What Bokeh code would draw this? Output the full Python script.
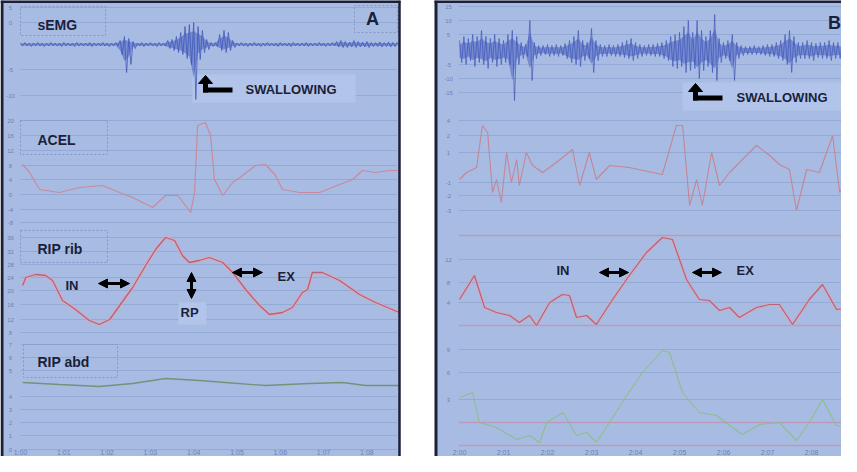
from bokeh.plotting import figure
from bokeh.models import Range1d, Arrow, NormalHead
from bokeh.core.properties import value
from bokeh.embed import file_html
from bokeh.resources import INLINE

# ------------------------------------------------------------------ data
# time axis (one unit = one tick interval)
time_ticks = [0, 1, 2, 3, 4, 5, 6, 7, 8]
time_labels_A = ["1:00", "1:01", "1:02", "1:03", "1:04", "1:05", "1:06", "1:07", "1:08"]
time_labels_B = ["2:00", "2:01", "2:02", "2:03", "2:04", "2:05", "2:06", "2:07", "2:08"]
emg_step = 0.1

# Panel A - sEMG envelope (upper / lower excursion per bin)
emgA_hi = [1.5, 2, 1.5, 1.5, 2, 1.5, 1.5, 2, 1.5, 1.5, 2, 1.5, 1.5, 2, 1.5, 1.5, 2, 1.5, 1.5, 2, 1.5, 1.5, 2,
           4, 8, 6, 3,
           1.5, 2, 1.5, 2, 1.5, 2, 1.5,
           4, 5, 8, 12, 18, 20, 22, 18, 14, 5,
           2, 2,
           10, 14, 12, 4,
           1.5, 2, 1.5, 1.5, 2, 1.5, 1.5, 2, 1.5, 1.5, 2, 1.5, 1.5, 2, 1.5, 1.5, 2, 1.5, 1.5, 2, 1.5, 1.5, 2,
           3, 4, 3, 2.5, 4, 3, 2.5, 3,
           2, 2, 2.5, 2, 2.5, 2, 2]
emgA_lo = [-1.5, -1.5, -2, -1.5, -1.5, -2, -1.5, -1.5, -1.5, -2, -1.5, -1.5, -2, -1.5, -1.5, -1.5, -2, -1.5, -1.5, -1.5, -2, -1.5, -1.5,
           -10, -28, -20, -4,
           -1.5, -2, -1.5, -1.5, -2, -1.5, -1.5,
           -4, -6, -8, -10, -14, -20, -55, -15, -8, -5,
           -2, -2,
           -6, -8, -6, -3,
           -1.5, -1.5, -2, -1.5, -1.5, -2, -1.5, -1.5, -1.5, -2, -1.5, -1.5, -2, -1.5, -1.5, -1.5, -2, -1.5, -1.5, -1.5, -2, -1.5, -1.5,
           -2.5, -3, -3, -2.5, -3, -2.5, -2.5, -3,
           -2, -2, -2.5, -2, -2.5, -2, -2]

# Panel A - ACEL
acelA_t = [0.05, 0.21, 0.44, 0.9, 1.36, 1.89, 2.29, 2.59, 3.05, 3.35, 3.63, 3.81, 3.93, 4.02, 4.09,
           4.27, 4.39, 4.48, 4.67, 4.9, 5.13, 5.43, 5.66, 5.89, 6.05, 6.44, 6.91, 7.37, 7.67, 7.9,
           8.2, 8.52, 8.71]
acelA_v = [58, 50, 33, 30, 35, 37, 30, 25, 15, 27, 27, 17, 10, 30, 97, 100, 87, 43, 27, 40, 47, 57,
           58, 47, 33, 30, 30, 38, 43, 52, 50, 52, 52]

# Panel A - RIP rib
ribA_t = [0.05, 0.12, 0.35, 0.58, 0.74, 0.97, 1.27, 1.59, 1.82, 2.06, 2.29, 2.59, 2.89, 3.12, 3.35,
          3.56, 3.74, 3.9, 4.13, 4.36, 4.67, 4.9, 5.2, 5.52, 5.75, 6.05, 6.28, 6.51, 6.63, 6.74,
          6.97, 7.37, 7.83, 8.2, 8.75]
ribA_v = [47, 55, 58, 57, 52, 32, 23, 12, 8, 13, 27, 45, 67, 83, 95, 92, 77, 70, 72, 75, 70, 60, 43,
          27, 18, 20, 25, 40, 43, 60, 60, 52, 38, 30, 20]

# Panel A - RIP abd
abdA_t = [0.05, 0.9, 1.82, 2.59, 3.35, 4.13, 4.73, 5.66, 6.67, 7.44, 7.97, 8.75]
abdA_v = [67, 65, 63, 66, 71, 69, 67, 64, 66, 67, 64, 64]

# Panel B - sEMG envelope
emgB_hi = [10, 14, 12, 16, 14, 20, 14, 12, 16, 12, 10, 16, 20, 14, 8, 6, 30, 8, 5, 5, 6, 5, 6, 5, 7,
           10, 14, 20, 10, 8, 22, 10, 6, 5, 6, 5, 6, 8, 10, 12, 8, 6, 5, 6, 6, 7, 8, 10, 14, 16, 18,
           24, 30, 18, 30, 20, 14, 20, 36, 12, 8, 10, 16, 8, 5, 4, 4, 5, 4, 5, 6, 6, 8, 10, 16, 20,
           14, 8, 8, 10, 8, 7, 8, 8, 10, 8, 8, 6]
emgB_lo = [-12, -14, -10, -16, -12, -14, -18, -12, -16, -14, -12, -14, -50, -14, -8, -6, -30, -8, -5,
           -4, -6, -5, -6, -5, -8, -12, -14, -16, -10, -8, -22, -10, -6, -6, -5, -6, -6, -7, -8, -10,
           -8, -6, -5, -5, -6, -6, -8, -10, -16, -18, -16, -22, -20, -18, -28, -20, -16, -22, -30,
           -12, -8, -10, -30, -8, -5, -4, -4, -4, -4, -5, -6, -6, -8, -10, -14, -22, -12, -8, -8, -8,
           -10, -7, -8, -8, -10, -8, -8, -6]

# Panel B - ACEL
acelB_t = [0, 0.16, 0.39, 0.52, 0.64, 0.75, 0.84, 0.95, 1.07, 1.18, 1.3, 1.36, 1.52, 1.66, 1.89, 2.2,
           2.57, 2.73, 2.95, 3.11, 3.41, 3.86, 4.61, 4.93, 5.07, 5.23, 5.39, 5.52, 5.73, 5.91, 6.14,
           6.43, 6.75, 7.05, 7.27, 7.5, 7.66, 7.89, 8.18, 8.48, 8.64, 8.86]
acelB_v = [38, 45, 50, 92, 85, 25, 38, 15, 65, 35, 58, 32, 65, 52, 45, 55, 68, 32, 65, 38, 52, 50,
           43, 92, 92, 12, 38, 12, 65, 32, 45, 58, 72, 62, 53, 48, 7, 48, 45, 82, 25, 45]

# Panel B - RIP rib
ribB_t = [0, 0.34, 0.57, 0.84, 1.14, 1.36, 1.59, 1.75, 2.05, 2.34, 2.5, 2.66, 2.89, 3.11, 3.48, 3.86,
          4.25, 4.61, 4.84, 5.16, 5.45, 5.68, 5.91, 6.14, 6.36, 6.75, 7.05, 7.27, 7.57, 7.95, 8.25,
          8.57, 8.86]
ribB_v = [29, 53, 21, 16, 13, 6, 13, 3, 26, 34, 33, 11, 13, 4, 29, 53, 76, 91, 89, 49, 29, 28, 18,
          21, 11, 21, 24, 24, 4, 29, 44, 19, 21]

# Panel B - RIP abd
abdB_t = [0, 0.3, 0.45, 0.84, 1.3, 1.59, 1.82, 1.98, 2.35, 2.66, 2.89, 3.11, 3.41, 3.8, 4.16, 4.61,
          4.77, 5.07, 5.45, 5.84, 6.14, 6.43, 6.82, 7.27, 7.66, 7.95, 8.25, 8.57, 8.86]
abdB_v = [52, 57, 27, 22, 10, 14, 7, 27, 37, 14, 17, 7, 27, 54, 77, 99, 97, 57, 37, 34, 24, 15, 25,
          27, 9, 27, 50, 24, 22]

trace_labels = ["sEMG", "ACEL", "RIP rib", "RIP abd"]

# ------------------------------------------------------------------ layout
W, H = 841, 456
FX0, FX1 = 8, 8 + W
FY0, FY1 = 8, 8 + H

BG = "#a8bce3"
GRID = "#93a9d6"
DARK = "#1b2038"
TXT = "#1a1f3a"
FONT = value("Liberation Sans")

p = figure(width=W, height=H, x_range=Range1d(FX0, FX1), y_range=Range1d(FY1, FY0),
           output_backend="svg", toolbar_location=None, min_border=0,
           x_axis_location=None, y_axis_location=None,
           outline_line_color=None, background_fill_color="white", border_fill_color="white")
p.grid.visible = False


def xr(t0_px, ppu):
    return Range1d((FX0 - t0_px) / ppu, (FX1 - t0_px) / ppu)


def yr(base_px, ppu=1.0):
    return Range1d((base_px - FY1) / ppu, (base_px - FY0) / ppu)


p.extra_x_ranges = {"tA": xr(28, 43.3), "tB": xr(467, 44.0)}
p.extra_y_ranges = {
    "emgA": yr(52), "acelA": yr(230), "ribA": yr(340), "abdA": yr(457),
    "emgB": yr(58), "acelB": yr(225), "ribB": yr(336), "abdB": yr(457),
}

# panel backgrounds
p.quad(left=[9, 443], right=[407, FX1], top=[FY0, FY0], bottom=[FY1, FY1],
       fill_color=BG, line_color=None)

# horizontal grid lines (pixel rows)
gridA = [15, 30, 77, 103, 128, 143, 158, 173, 187, 202, 217, 230,
         245, 259, 272, 285, 298, 312, 327, 340,
         352, 365, 378, 404, 417, 430, 443, 457]
gridB = [14, 28, 42, 72, 86, 100, 128, 143, 160, 190, 203, 218,
         267, 290, 310, 357, 380, 407]
gridB_pink = [243, 333, 430, 453]
p.segment(x0=[28] * len(gridA), x1=[405] * len(gridA), y0=gridA, y1=gridA,
          line_color=GRID, line_width=1)
p.segment(x0=[466] * len(gridB), x1=[FX1] * len(gridB), y0=gridB, y1=gridB,
          line_color=GRID, line_width=1)
p.segment(x0=[466] * len(gridB_pink), x1=[FX1] * len(gridB_pink), y0=gridB_pink, y1=gridB_pink,
          line_color="#b99ab8", line_width=1.3)

# light label backgrounds
p.quad(left=[200, 186, 690], right=[363, 214, 850], top=[82, 310, 90], bottom=[110, 332, 118],
       fill_color="#b2c4ea", line_color=None)

# tiny y tick labels
ytick_txt_A = ["5", "0", "-5", "-10", "20", "16", "12", "8", "4", "0", "-4", "-8",
               "36", "32", "28", "24", "20", "16", "12", "8",
               "7", "6", "5", "4", "3", "2", "1", "0"]
p.text(x=[18] * len(gridA), y=gridA, text=ytick_txt_A, text_font=FONT, text_font_size="6px",
       text_color="#6a80b4", text_align="center", text_baseline="middle")
ytick_txt_B = ["15", "10", "5", "-5", "-10", "-15", "4", "2", "1", "-1", "-2", "-3",
               "12", "8", "4", "9", "6", "3"]
p.text(x=[456] * len(gridB), y=gridB, text=ytick_txt_B, text_font=FONT, text_font_size="6px",
       text_color="#6a80b4", text_align="center", text_baseline="middle")

# bottom time labels
p.text(x=time_ticks, y=[-3] * len(time_ticks), text=time_labels_A,
       x_range_name="tA", y_range_name="abdA", text_font=FONT, text_font_size="7px",
       text_color="#6a80b4", text_align="center", text_baseline="middle")
p.text(x=time_ticks, y=[-3] * len(time_ticks), text=time_labels_B,
       x_range_name="tB", y_range_name="abdB", text_font=FONT, text_font_size="7px",
       text_color="#6a80b4", text_align="center", text_baseline="middle")


def zigzag(hi, lo, step):
    xs, ys = [], []
    for i, (h, l) in enumerate(zip(hi, lo)):
        xs += [i * step, i * step + step / 2]
        ys += [h, l]
    return xs, ys


def emg_band(hi, lo, step, xname, yname, width):
    ts = [i * step for i in range(len(hi))]
    core_hi = [h * 0.6 for h in hi]
    core_lo = [l * 0.6 for l in lo]
    p.varea(x=ts, y1=core_lo, y2=core_hi, x_range_name=xname, y_range_name=yname,
            fill_color="#4a60c2", fill_alpha=0.55)
    zx, zy = zigzag(hi, lo, step)
    p.line(zx, zy, x_range_name=xname, y_range_name=yname, line_color="#3f55b5",
           line_width=width, line_alpha=0.85)


# ---- traces panel A
emg_band(emgA_hi, emgA_lo, emg_step, "tA", "emgA", 0.9)
p.line(acelA_t, acelA_v, x_range_name="tA", y_range_name="acelA", line_color="#c9899b",
       line_width=1.2)
p.line(ribA_t, ribA_v, x_range_name="tA", y_range_name="ribA", line_color="#d9a7bb",
       line_width=3.5, line_alpha=0.8)
p.line(ribA_t, ribA_v, x_range_name="tA", y_range_name="ribA", line_color="#bb6176",
       line_width=1.3)
p.line(abdA_t, abdA_v, x_range_name="tA", y_range_name="abdA", line_color="#6f9579",
       line_width=1.3)

# ---- traces panel B
emg_band(emgB_hi, emgB_lo, emg_step, "tB", "emgB", 0.8)
p.line(acelB_t, acelB_v, x_range_name="tB", y_range_name="acelB", line_color="#c48595",
       line_width=1.1)
p.line(ribB_t, ribB_v, x_range_name="tB", y_range_name="ribB", line_color="#d9a7bb",
       line_width=3.2, line_alpha=0.7)
p.line(ribB_t, ribB_v, x_range_name="tB", y_range_name="ribB", line_color="#bb6176",
       line_width=1.2)
p.line(abdB_t, abdB_v, x_range_name="tB", y_range_name="abdB", line_color="#8cbf8a",
       line_width=1.1)

# panel borders
p.segment(x0=[9.5, 8, 407, 443.5, 442], x1=[9.5, 408, 407, 443.5, FX1],
          y0=[8, 9, 8, 8, 9], y1=[FY1, 9, FY1, FY1, 9],
          line_color=DARK, line_width=[3, 3, 2.5, 3, 3])

# dotted label boxes (panel A)
p.quad(left=[28, 28, 28, 31, 362], right=[113, 115, 115, 125, 405],
       top=[14, 128, 238, 352, 13], bottom=[43, 162, 270, 385, 40],
       fill_color=None, line_color="#8596c6", line_dash="2 2", line_width=1)

# trace titles (panel A)
p.text(x=[45, 45, 45, 45], y=[32, 147, 256, 369], text=trace_labels, text_font=FONT,
       text_font_style="bold", text_font_size="14px", text_color=TXT,
       text_baseline="middle", text_align="left")

# panel letters
p.text(x=[380, 842], y=[26, 30], text=["A", "B"], text_font=FONT, text_font_style="bold",
       text_font_size="18px", text_color=TXT, text_baseline="middle", text_align="center")

# SWALLOWING notes
p.text(x=[253, 744], y=[97, 105], text=["SWALLOWING", "SWALLOWING"], text_font=FONT,
       text_font_style="bold", text_font_size="13px", text_color=TXT,
       text_baseline="middle", text_align="left")

# bent arrows (shape relative to tip)
for tx, ty in [(213, 83), (703, 91)]:
    p.patch([tx, tx - 7, tx + 7], [ty, ty + 8, ty + 8], fill_color="black", line_color="black")
    p.quad(left=[tx - 2.5, tx - 2.5], right=[tx + 2.5, tx + 27], top=[ty + 7, ty + 12],
           bottom=[ty + 17, ty + 17], fill_color="black", line_color=None)

# IN / EX / RP annotations
p.text(x=[73, 285, 188, 564, 744], y=[293, 284, 320, 278, 278],
       text=["IN", "EX", "RP", "IN", "EX"], text_font=FONT, text_font_style="bold",
       text_font_size="13px", text_color=TXT, text_baseline="middle", text_align="left")

for (xa, ya, xb, yb) in [(106, 291, 137, 291), (240, 280, 270, 280), (199, 280, 199, 306),
                         (607, 280, 636, 280), (700, 280, 729, 280)]:
    p.add_layout(Arrow(x_start=xa, y_start=ya, x_end=xb, y_end=yb, line_color="black",
                       line_width=3,
                       start=NormalHead(size=9, fill_color="black", line_color="black"),
                       end=NormalHead(size=9, fill_color="black", line_color="black")))

open("out.html", "w").write(file_html(p, INLINE))
